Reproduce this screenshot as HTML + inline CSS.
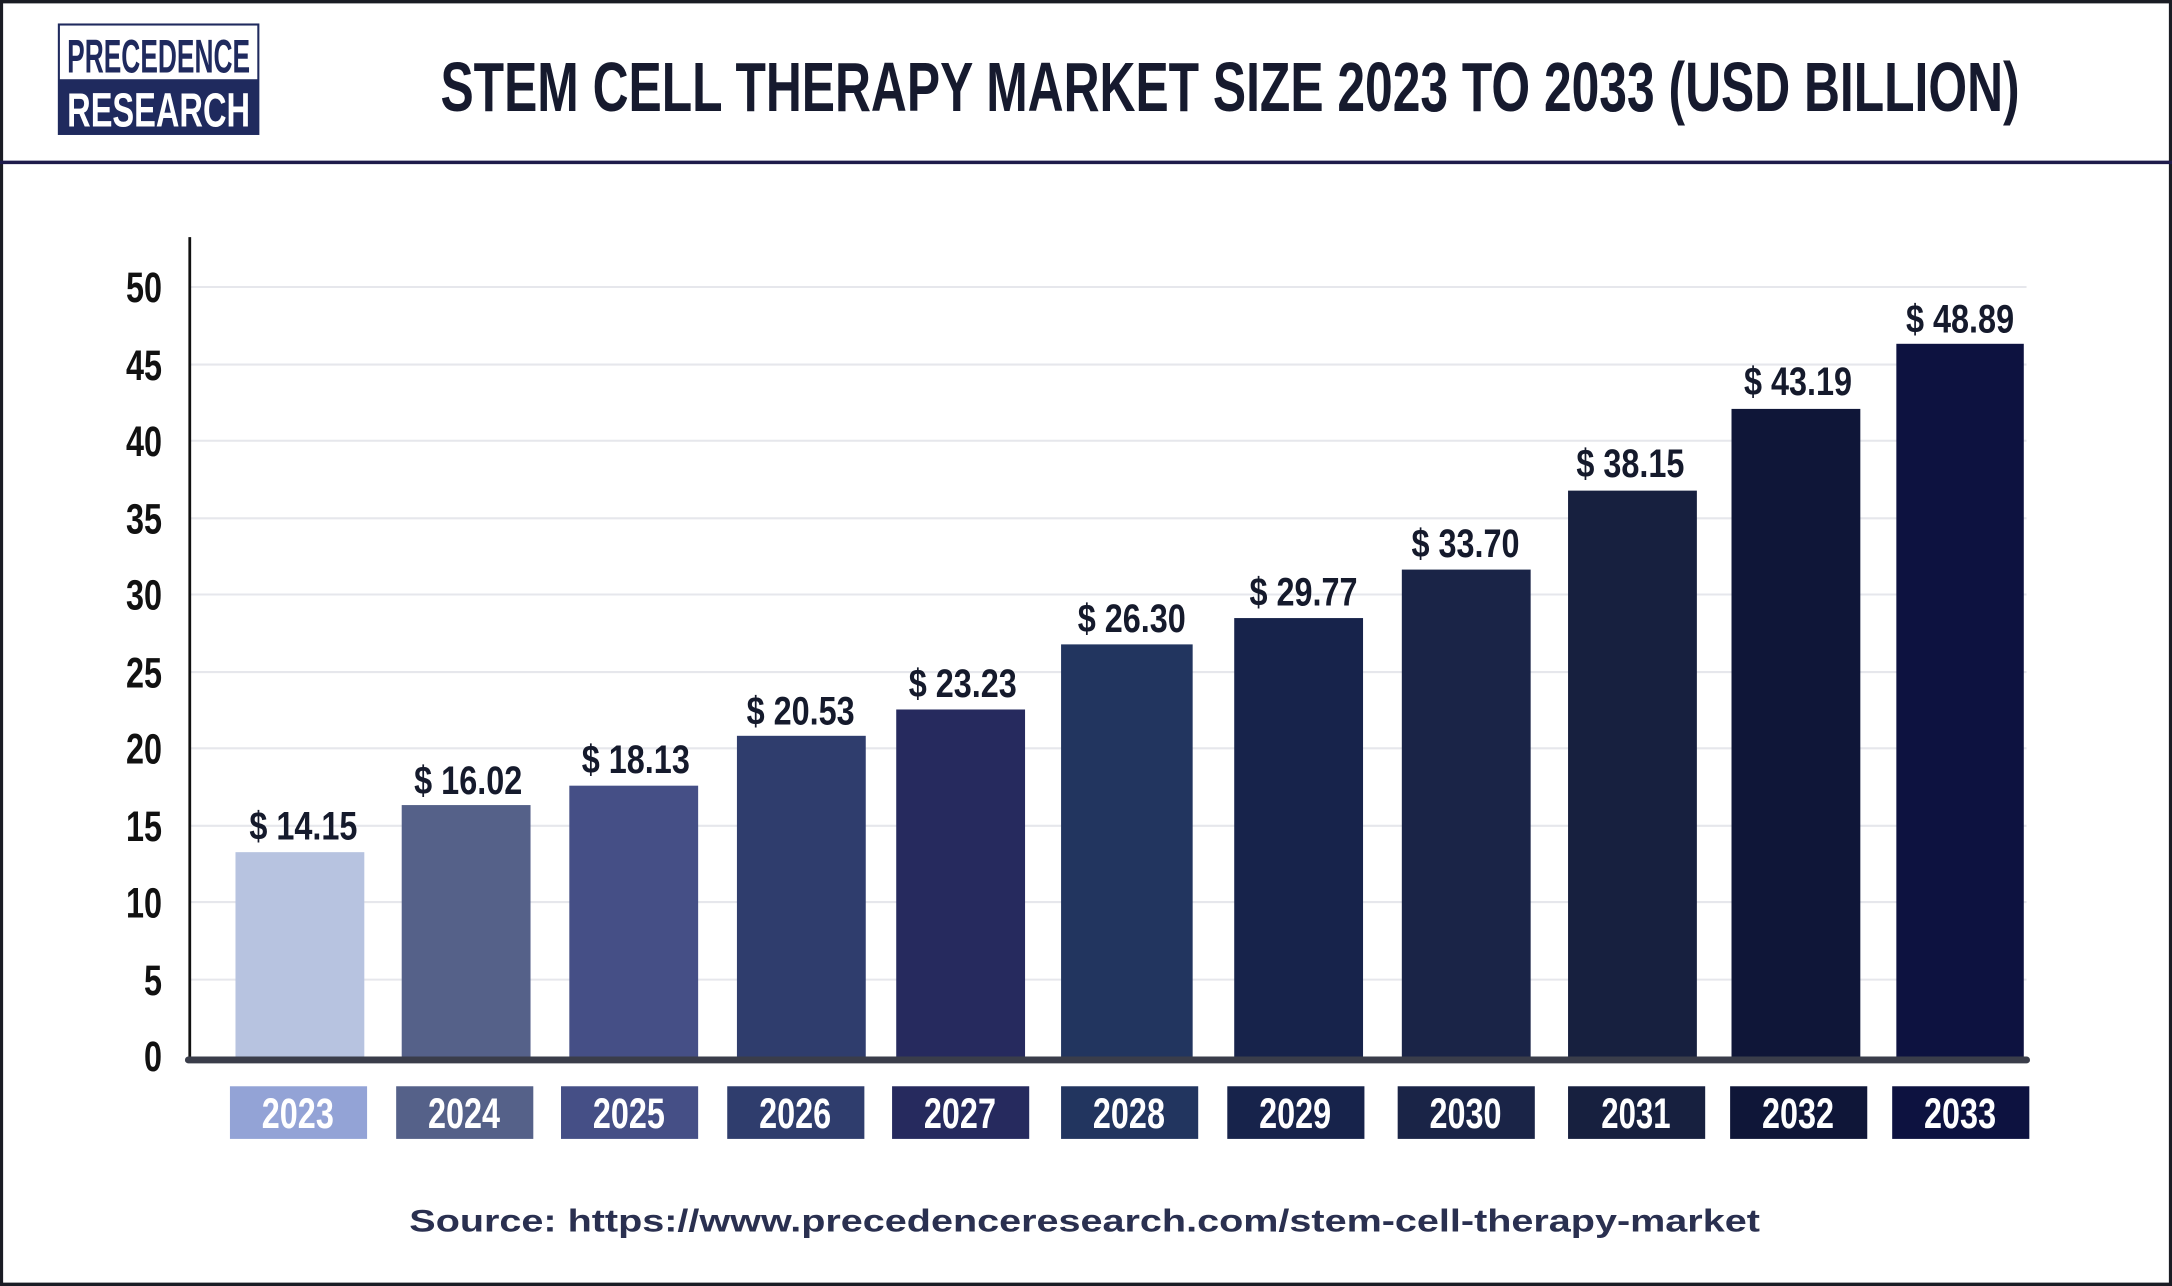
<!DOCTYPE html>
<html><head><meta charset="utf-8"><style>
html,body{margin:0;padding:0;background:#fff;}
svg{display:block;}
.c{font-family:"Liberation Sans Narrow","Liberation Sans",sans-serif;font-weight:bold;}
</style></head><body>
<svg width="2172" height="1286" viewBox="0 0 1568 928" xmlns="http://www.w3.org/2000/svg">
<rect x="0" y="0" width="1568" height="928" fill="#fff"/>
<rect x="1" y="1" width="1566" height="926" fill="none" stroke="#1a1c24" stroke-width="2.5"/>
<line x1="0" y1="117" x2="1568" y2="117" stroke="#1e1b4b" stroke-width="2.5"/>
<rect x="42.5" y="17.5" width="144" height="79" fill="#fff" stroke="#1f2a5e" stroke-width="1.5"/>
<rect x="42.5" y="57" width="144" height="39.5" fill="#1f2a5e"/>
<text class="c" x="114.5" y="52" text-anchor="middle" font-size="34" fill="#1f2a5e" textLength="132" lengthAdjust="spacingAndGlyphs">PRECEDENCE</text>
<text class="c" x="114.5" y="91" text-anchor="middle" font-size="35" fill="#fff" textLength="132" lengthAdjust="spacingAndGlyphs">RESEARCH</text>
<text class="c" x="888" y="80" text-anchor="middle" font-size="50" fill="#161a2e" textLength="1140" lengthAdjust="spacingAndGlyphs">STEM CELL THERAPY MARKET SIZE 2023 TO 2033 (USD BILLION)</text>
<g stroke="#e6e7ec" stroke-width="1.5">
<line x1="137" y1="207" x2="1463" y2="207"/><line x1="137" y1="263" x2="1463" y2="263"/>
<line x1="137" y1="318" x2="1463" y2="318"/><line x1="137" y1="374" x2="1463" y2="374"/>
<line x1="137" y1="429" x2="1463" y2="429"/><line x1="137" y1="485" x2="1463" y2="485"/>
<line x1="137" y1="540" x2="1463" y2="540"/><line x1="137" y1="596" x2="1463" y2="596"/>
<line x1="137" y1="651" x2="1463" y2="651"/><line x1="137" y1="707" x2="1463" y2="707"/>
</g>
<g class="c" font-size="31" fill="#111" text-anchor="end">
<text x="117" y="218" textLength="26" lengthAdjust="spacingAndGlyphs">50</text>
<text x="117" y="274" textLength="26" lengthAdjust="spacingAndGlyphs">45</text>
<text x="117" y="329" textLength="26" lengthAdjust="spacingAndGlyphs">40</text>
<text x="117" y="385" textLength="26" lengthAdjust="spacingAndGlyphs">35</text>
<text x="117" y="440" textLength="26" lengthAdjust="spacingAndGlyphs">30</text>
<text x="117" y="496" textLength="26" lengthAdjust="spacingAndGlyphs">25</text>
<text x="117" y="551" textLength="26" lengthAdjust="spacingAndGlyphs">20</text>
<text x="117" y="607" textLength="26" lengthAdjust="spacingAndGlyphs">15</text>
<text x="117" y="662" textLength="26" lengthAdjust="spacingAndGlyphs">10</text>
<text x="117" y="718" textLength="13" lengthAdjust="spacingAndGlyphs">5</text>
<text x="117" y="773" textLength="13" lengthAdjust="spacingAndGlyphs">0</text>
</g>
<rect x="170" y="615" width="93" height="150" fill="#b7c3e0"/>
<rect x="290" y="581" width="93" height="184" fill="#556189"/>
<rect x="411" y="567" width="93" height="198" fill="#454f86"/>
<rect x="532" y="531" width="93" height="234" fill="#2f3d6d"/>
<rect x="647" y="512" width="93" height="253" fill="#262a5e"/>
<rect x="766" y="465" width="95" height="300" fill="#22355f"/>
<rect x="891" y="446" width="93" height="319" fill="#17234b"/>
<rect x="1012" y="411" width="93" height="354" fill="#1a2447"/>
<rect x="1132" y="354" width="93" height="413" fill="#17203f"/>
<rect x="1250" y="295" width="93" height="470" fill="#0f1638"/>
<rect x="1369" y="248" width="92" height="517" fill="#0d1240"/>
<line x1="137" y1="171" x2="137" y2="766" stroke="#111" stroke-width="2"/>
<line x1="136" y1="765" x2="1463" y2="765" stroke="#3a3d4a" stroke-width="5" stroke-linecap="round"/>
<g class="c" font-size="29" fill="#151a2c" text-anchor="middle">
<text x="219" y="606" textLength="78" lengthAdjust="spacingAndGlyphs">$ 14.15</text>
<text x="338" y="573" textLength="78" lengthAdjust="spacingAndGlyphs">$ 16.02</text>
<text x="459" y="558" textLength="78" lengthAdjust="spacingAndGlyphs">$ 18.13</text>
<text x="578" y="523" textLength="78" lengthAdjust="spacingAndGlyphs">$ 20.53</text>
<text x="695" y="503" textLength="78" lengthAdjust="spacingAndGlyphs">$ 23.23</text>
<text x="817" y="456" textLength="78" lengthAdjust="spacingAndGlyphs">$ 26.30</text>
<text x="941" y="437" textLength="78" lengthAdjust="spacingAndGlyphs">$ 29.77</text>
<text x="1058" y="402" textLength="78" lengthAdjust="spacingAndGlyphs">$ 33.70</text>
<text x="1177" y="344" textLength="78" lengthAdjust="spacingAndGlyphs">$ 38.15</text>
<text x="1298" y="285" textLength="78" lengthAdjust="spacingAndGlyphs">$ 43.19</text>
<text x="1415" y="240" textLength="78" lengthAdjust="spacingAndGlyphs">$ 48.89</text>
</g>
<rect x="166" y="784" width="99" height="38" fill="#93a3d6"/>
<rect x="286" y="784" width="99" height="38" fill="#556189"/>
<rect x="405" y="784" width="99" height="38" fill="#454f86"/>
<rect x="525" y="784" width="99" height="38" fill="#2f3d6d"/>
<rect x="644" y="784" width="99" height="38" fill="#262a5e"/>
<rect x="766" y="784" width="99" height="38" fill="#22355f"/>
<rect x="886" y="784" width="99" height="38" fill="#17234b"/>
<rect x="1009" y="784" width="99" height="38" fill="#1a2447"/>
<rect x="1132" y="784" width="99" height="38" fill="#17203f"/>
<rect x="1249" y="784" width="99" height="38" fill="#0f1638"/>
<rect x="1366" y="784" width="99" height="38" fill="#0d1240"/>
<g class="c" font-size="31" fill="#fff" text-anchor="middle">
<text x="215" y="814" textLength="52" lengthAdjust="spacingAndGlyphs">2023</text>
<text x="335" y="814" textLength="52" lengthAdjust="spacingAndGlyphs">2024</text>
<text x="454" y="814" textLength="52" lengthAdjust="spacingAndGlyphs">2025</text>
<text x="574" y="814" textLength="52" lengthAdjust="spacingAndGlyphs">2026</text>
<text x="693" y="814" textLength="52" lengthAdjust="spacingAndGlyphs">2027</text>
<text x="815" y="814" textLength="52" lengthAdjust="spacingAndGlyphs">2028</text>
<text x="935" y="814" textLength="52" lengthAdjust="spacingAndGlyphs">2029</text>
<text x="1058" y="814" textLength="52" lengthAdjust="spacingAndGlyphs">2030</text>
<text x="1181" y="814" textLength="50" lengthAdjust="spacingAndGlyphs">2031</text>
<text x="1298" y="814" textLength="52" lengthAdjust="spacingAndGlyphs">2032</text>
<text x="1415" y="814" textLength="52" lengthAdjust="spacingAndGlyphs">2033</text>
</g>
<text x="783" y="889" text-anchor="middle" font-family="'Liberation Sans',sans-serif" font-weight="bold" font-size="23" fill="#2a3050" textLength="975" lengthAdjust="spacingAndGlyphs">Source: https://www.precedenceresearch.com/stem-cell-therapy-market</text>
</svg>
</body></html>
